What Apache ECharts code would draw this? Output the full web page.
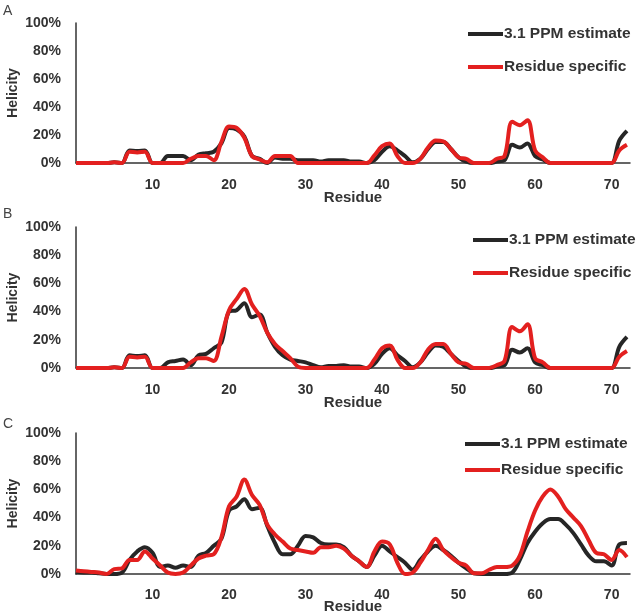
<!DOCTYPE html>
<html>
<head>
<meta charset="utf-8">
<script src="https://cdn.jsdelivr.net/npm/echarts@6/dist/echarts.min.js"></script>
<style>
html,body{margin:0;padding:0;background:#fff;}
#chart{width:637px;height:614px;}
</style>
</head>
<body>
<div id="chart"></div>
<script>
// Residue numbers (x values)
const residues = [0,1,2,3,4,5,6,7,8,9,10,11,12,13,14,15,16,17,18,19,20,21,22,23,24,25,26,27,28,29,30,31,32,33,34,35,36,37,38,39,40,41,42,43,44,45,46,47,48,49,50,51,52,53,54,55,56,57,58,59,60,61,62,63,64,65,66,67,68,69,70,71,72];
const xTicks = [10,20,30,40,50,60,70];
const yTicks = [0,20,40,60,80,100];
const seriesNames = ['3.1 PPM estimate','Residue specific'];
const panelLabels = ['A','B','C'];

// Panel A (helicity, %)
const ppmA = [0,0,0,0,0,0.5,0,9,8.5,9,0,0,5,5,5,2,6,7,8,14,25,24,19,5,3,0,4,3,3,2,2,2,1,2,2,2,1,1,0,2,8,12,9,5,0.5,3,10,15,15,10,4,1,0,0,0,1,2,13,11,14,5,2.5,0,0,0,0,0,0,0,0,0,16,23];
const resA = [0,0,0,0,0,0.5,0,8,7.5,8,0,0,0,0,0,3,5,5,2,15,26,25,18,5,2.5,0.5,5,5,5,0,0,0,0,0,0,0,0,0,0,5.5,12,14,5,0,0,3,11,16,15.5,10,4,3,0,0,0,3,5,29.5,27,30.5,9,4,0,0,0,0,0,0,0,0,0,9,13];

// Panel B
const ppmB = [0,0,0,0,0,0.5,0,9,8.5,9,0,0,4,5,6,2,9,10,14,18,40,41,46,36,38,25,15,9,6,5,4,2,0.5,1.5,1.5,2,1,1,0,3,10,14,9,5,0.5,4,11,16,15,10,5,1,0,0,0,1,2,13,11,14,4,2,0,0,0,0,0,0,0,0,0,15,22];
const resB = [0,0,0,0,0,0.5,0,8,7.5,8,0,0,0,0,0,4,7,7,5,22,41,49,56,45,37,25,17,12,7,1,0,0,0,0,0,0,0,0,0,6,14,16,6,0,0,4,13,17,17,10,4,3,0,0,0,2,5,29,26,31,7,4,0,0,0,0,0,0,0,0,0,8,12];

// Panel C
const ppmC = [1.5,1,1,0.5,0,0,1,10,16,19,15,5,6,4.5,6,5,13,15,20,25,45,48,53,46,47,34,22,14,14,20,27,26,22,21,21,19,13,9,5,13,20,16,12,8,3,10,16,20,17,13,8,4,0.5,0,0,0,0,1,10,22,30,36,39,39,35,29,21,13,9,9,6,21,22];
const resC = [2.5,2,1.5,1,0,3.5,4,10,10,16,11,6,1,0,1,6,11,13,14,26,48,55,67,56,49,35,28,23,18,17,16,15,19,19,20,18,13,9,5,16,23,21,8,0,1,8,17,25,17,12,8,6,0.5,0.5,3,5,5,6,13,30,45,55,60,55,46,40,34,24,15,14,10,17,12];

const panels = [[ppmA,resA],[ppmB,resB],[ppmC,resC]];

const font = 'Arial, "Liberation Sans", sans-serif';
const colors = ['#262626','#e3201f'];
const grids = [
  {left:76, right:7, top:23, height:140, containLabel:false, outerBoundsMode:'none'},
  {left:76, right:7, top:227, height:141, containLabel:false, outerBoundsMode:'none'},
  {left:76, right:7, top:433, height:141, containLabel:false, outerBoundsMode:'none'}
];
const legendPos = [
  {left:468, top:26, itemGap:17},
  {left:473, top:232, itemGap:17},
  {left:465, top:436, itemGap:10}
];
const xLabelMargin = [15,15,14];
const xNameGap = [27,27,25];
const letterTop = [4,207,417];

const option = {
  animation:false,
  backgroundColor:'#fff',
  grid: grids,
  legend: legendPos.map(p => ({
    data: seriesNames, orient:'vertical', left:p.left, top:p.top, itemGap:p.itemGap,
    padding:0,
    icon:'rect', itemWidth:35, itemHeight:4, selectedMode:false,
    textStyle:{fontFamily:font, fontWeight:'bold', fontSize:15.5, color:'#333', padding:[0,0,0,-4]}
  })),
  xAxis: grids.map((g,i) => ({
    type:'value', gridIndex:i, min:0, max:72.4,
    interval:10,
    name:'Residue', nameLocation:'middle', nameGap:xNameGap[i], nameMoveOverlap:false,
    nameTextStyle:{fontFamily:font, fontWeight:'bold', fontSize:15, color:'#333'},
    axisLine:{show:true, lineStyle:{color:'#333', width:1.5}},
    axisTick:{show:false},
    splitLine:{show:false},
    axisLabel:{margin:xLabelMargin[i], fontFamily:font, fontWeight:'bold', fontSize:14, color:'#333',
      formatter: v => xTicks.indexOf(v) >= 0 ? String(v) : ''}
  })),
  yAxis: grids.map((g,i) => ({
    type:'value', gridIndex:i, min:0, max:100, interval:20,
    name:'Helicity', nameLocation:'middle', nameGap:56, nameMoveOverlap:false,
    nameTextStyle:{fontFamily:font, fontWeight:'bold', fontSize:14, color:'#333'},
    axisLine:{show:true, lineStyle:{color:'#333', width:1.5}},
    axisTick:{show:false},
    splitLine:{show:false},
    axisLabel:{margin:15, fontFamily:font, fontWeight:'bold', fontSize:14, color:'#333',
      formatter: v => yTicks.indexOf(v) >= 0 ? v + '%' : ''}
  })),
  series: [],
  graphic: panelLabels.map((t,i) => ({
    type:'text', left:3, top:letterTop[i],
    style:{text:t, fontFamily:font, fontSize:14, fill:'#444'}
  }))
};

panels.forEach((pair,i) => {
  pair.forEach((vals,k) => {
    option.series.push({
      name: seriesNames[k], type:'line', xAxisIndex:i, yAxisIndex:i,
      data: residues.map((r,j) => [r, vals[j]]),
      smooth:0.35, symbol:'none',
      lineStyle:{color:colors[k], width:4},
      itemStyle:{color:colors[k]},
      z: 2 + k
    });
  });
});

const chart = echarts.init(document.getElementById('chart'), null, {renderer:'canvas'});
chart.setOption(option);
</script>
</body>
</html>
